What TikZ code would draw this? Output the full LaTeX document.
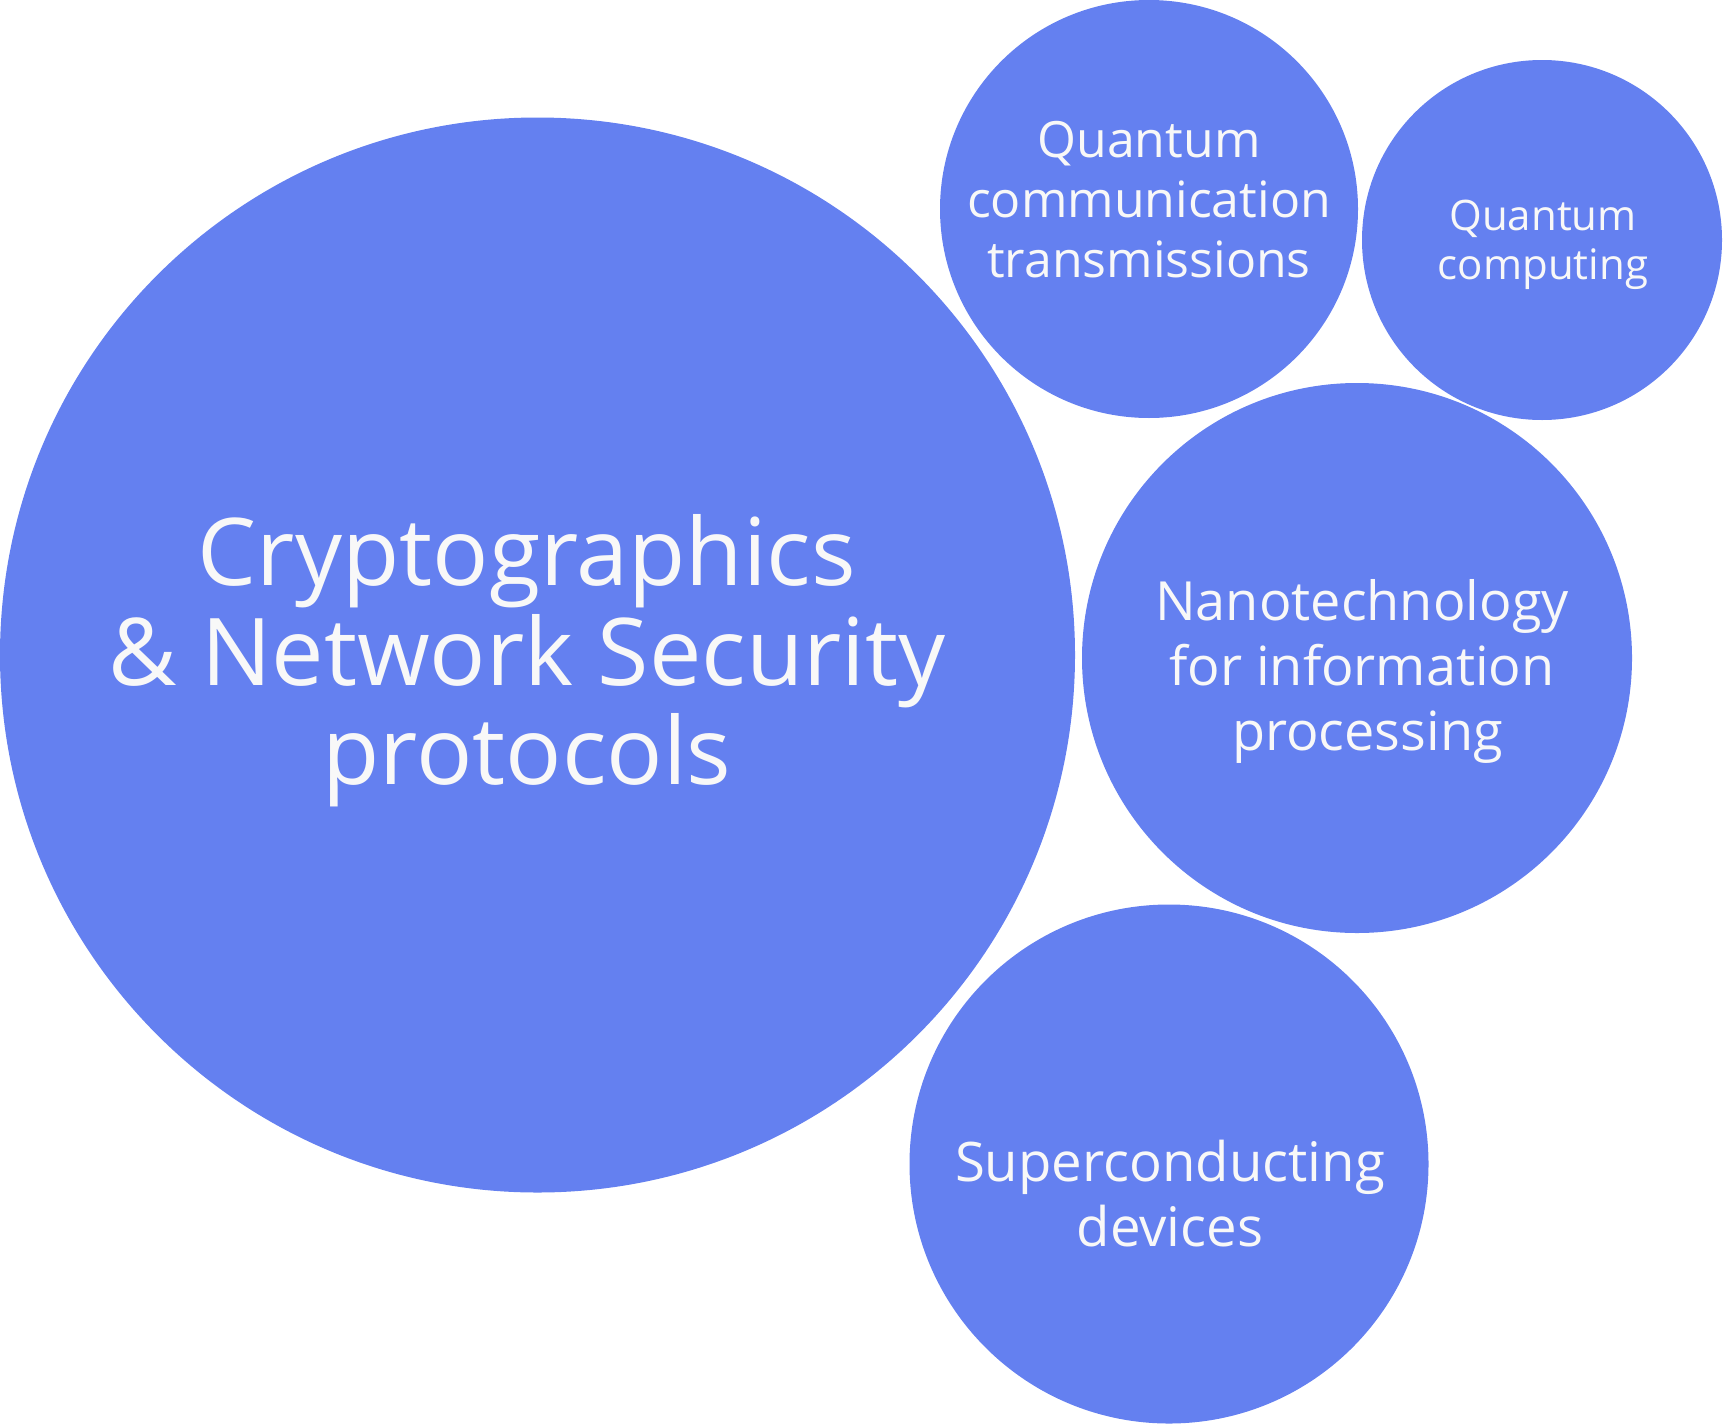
\documentclass[tikz,border=0pt]{standalone}
\usepackage{fontspec}
\setmainfont{Open Sans}
\definecolor{bubblue}{HTML}{6480F0}
\definecolor{bubtext}{HTML}{F8F8F8}
\tikzset{
  bub/.style={circle, fill=bubblue, draw=none, inner sep=0pt},
  btxt/.style={text=bubtext, align=center, inner sep=0pt}
}
\begin{document}
\begin{tikzpicture}[x=1pt, y=-1pt]
\useasboundingbox (0,0) rectangle (1723,1424);
\node[bub, minimum size=1075pt] (crypto) at (537.5,655) {};
\node[bub, minimum size=418pt] (qct) at (1149,209) {};
\node[bub, minimum size=360pt] (qc) at (1542,240) {};
\node[bub, minimum size=550pt] (nano) at (1357,658) {};
\node[bub, minimum size=519pt] (super) at (1169,1164) {};
\node[btxt, font=\fontsize{93.5}{99.5}\selectfont] (cryptot) at (527,661) {Cryptographics\\\& Network Security\\protocols};
\node[btxt, font=\fontsize{50}{60}\selectfont] (qctt) at (1149,199.5) {Quantum\\communication\\transmissions};
\node[btxt, font=\fontsize{42}{49}\selectfont] (qct2) at (1543,245) {Quantum\\computing};
\node[btxt, font=\fontsize{54}{65}\selectfont] (nanot) at (1362,671) {Nanotechnology\\for information\\\hspace*{11pt}processing};
\node[btxt, font=\fontsize{54.5}{65}\selectfont] (supert) at (1170,1194) {Superconducting\\devices};
\end{tikzpicture}
\end{document}
